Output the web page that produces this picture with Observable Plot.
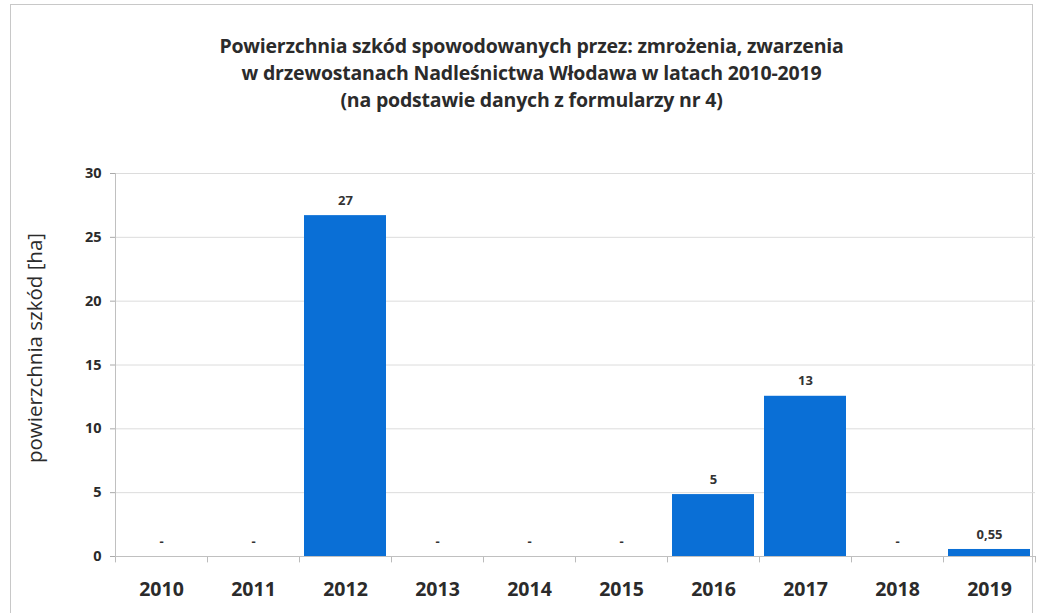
<!DOCTYPE html>
<html>
<head>
<meta charset="utf-8">
<script src="https://cdn.jsdelivr.net/npm/d3@7"></script>
<script src="https://cdn.jsdelivr.net/npm/@observablehq/plot@0.6"></script>
<style>
  body { margin: 0; background: #fff; width: 1037px; height: 613px; overflow: hidden; position: relative; font-family: "Open Sans", sans-serif; }
  #frame { position: absolute; left: 10px; top: 4px; width: 1023px; height: 640px; border: 1px solid #c8c8c8; box-sizing: border-box; }
  #title { position: absolute; left: 0; top: 32px; width: 1063px; text-align: center; font-weight: bold; font-size: 19.5px; line-height: 27px; color: #2b2b2b; letter-spacing: -0.2px; }
  #chart { position: absolute; left: 0; top: 125px; }
</style>
</head>
<body>
<div id="frame"></div>
<div id="title">Powierzchnia szkód spowodowanych przez: zmrożenia, zwarzenia<br>w drzewostanach Nadleśnictwa Włodawa w latach 2010-2019<br>(na podstawie danych z formularzy nr 4)</div>
<div id="chart"></div>
<script>
const years = ["2010","2011","2012","2013","2014","2015","2016","2017","2018","2019"];
const values = [0, 0, 26.7, 0, 0, 0, 4.85, 12.55, 0, 0.55];
const labels = ["-","-","27","-","-","-","5","13","-","0,55"];
const yTicks = [0, 5, 10, 15, 20, 25, 30];
const yLabel = "powierzchnia szkód [ha]";

const data = years.map((y, i) => ({year: y, value: values[i], label: labels[i]}));
const W = 1037, H = 488, mL = 115, mR = 2;
const step = (W - mL - mR) / 10;

const chart = Plot.plot({
  width: W, height: H,
  marginLeft: mL, marginRight: mR, marginTop: 48, marginBottom: 57,
  style: {fontFamily: "Open Sans, sans-serif", color: "#2b2b2b", background: "transparent"},
  x: {domain: years, paddingInner: 0.11, paddingOuter: 0.055},
  y: {domain: [0, 30]},
  marks: [
    Plot.gridY(yTicks, {stroke: "#dcdcdc", strokeOpacity: 1, strokeWidth: 1}),
    Plot.axisY(yTicks, {tickSize: 5, tickPadding: 9, stroke: "#aaa", fontSize: 14.5, fontWeight: "bold", fill: "#2b2b2b", label: null}),
    Plot.ruleX([0], {x: () => years[0], dx: -step / 2, y1: -0.35, y2: 30, stroke: "#c0c0c0"}),
    Plot.ruleX(years, {x: d => d, dx: -step / 2, y1: 0, y2: -0.5, stroke: "#bbb"}),
    Plot.ruleX([years[years.length - 1]], {x: d => d, dx: step / 2, y1: 0, y2: -0.5, stroke: "#bbb"}),
    Plot.barY(data, {x: "year", y: "value", fill: "#0a6fd6"}),
    Plot.ruleY([0], {stroke: "#c0c0c0"}),
    Plot.text(data, {x: "year", y: "value", text: "label", dy: -15, fontSize: 13, fontWeight: "bold", fill: "#333"}),
    Plot.axisX({tickSize: 0, tickPadding: 26, fontSize: 19.5, fontWeight: "bold", fill: "#2b2b2b", label: null}),
    Plot.text([yLabel], {frameAnchor: "left", textAnchor: "middle", dx: -80, dy: -17, rotate: -90, text: d => d, fontSize: 20.5, fill: "#2b2b2b"})
  ]
});
document.getElementById("chart").appendChild(chart);
</script>
</body>
</html>
